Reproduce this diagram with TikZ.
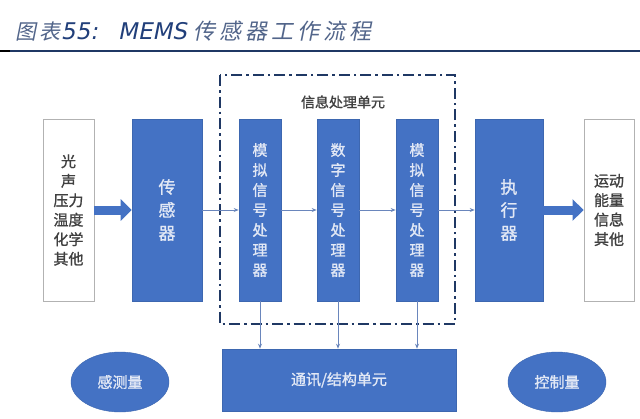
\documentclass[tikz,border=0pt]{standalone}
\usepackage{fontspec}
\setmainfont{Liberation Sans}
\newfontfamily\cjk{Noto Sans CJK SC}[FakeBold=1.2]
\newfontfamily\cjksl{Noto Sans CJK SC}[FakeSlant=0.2,LetterSpace=18]
\newfontfamily\latsl{DejaVu Sans}[FakeSlant=0.2]
\usetikzlibrary{arrows.meta,shapes.geometric}
\definecolor{boxblue}{HTML}{4472C4}
\definecolor{boxtext}{HTML}{E2E8F5}
\definecolor{framec}{HTML}{1F3864}
\definecolor{titlec}{HTML}{213F7A}
\definecolor{titlecjk}{HTML}{52658A}
\definecolor{linec}{HTML}{6A86BC}
\definecolor{graytext}{HTML}{404040}
\tikzset{
  bluebox/.style={draw=boxblue!90!black, line width=0.6pt, fill=boxblue, text=boxtext, inner sep=0pt, align=center, font=\cjk\fontsize{15}{20}\selectfont},
  whitebox/.style={draw=gray!60, line width=0.8pt, fill=white, text=graytext, inner sep=0pt, align=center, font=\cjk\fontsize{15}{19.5}\selectfont},
  fatarrow/.style={draw=boxblue, line width=9pt, -{Triangle[length=11pt,width=21pt]}},
  thinarrow/.style={draw=linec, line width=0.8pt, -{Stealth[length=5pt,width=4pt]}},
  blueell/.style={ellipse, fill=boxblue, draw=boxblue!90!black, text=boxtext, inner sep=0pt, font=\cjk\fontsize{15}{18}\selectfont},
  frame/.style={draw=framec, line width=2.5pt, dash pattern=on 11pt off 4pt on 2.5pt off 4pt}
}
\begin{document}
\begin{tikzpicture}[x=1pt,y=-1pt]
\useasboundingbox (0,0) rectangle (640,418);
\fill[white] (0,0) rectangle (640,418);
% title
\node[anchor=base west, inner sep=0pt] (title) at (15,39)
  {{\color{titlecjk}\cjksl\fontsize{21}{21}\selectfont 图表}{\color{titlec}\latsl\fontsize{23}{23}\selectfont 55:\hspace{20pt}MEMS}\hspace{7pt}{\color{titlecjk}\cjksl\fontsize{22}{22}\selectfont 传感器工作流程}};
\draw[line width=2.5pt, draw=framec] (10,51) -- (640,51);
\draw[line width=2.5pt, draw=black] (0,51) -- (10,51);
% frame
\draw[frame] (220,75) rectangle (455,324);
\node[text=graytext, font=\cjk\fontsize{14}{14}\selectfont] (info) at (343,102) {信息处理单元};
% boxes
\node[whitebox, minimum width=51pt, minimum height=182pt] (in) at (68.5,210) {光\\声\\压力\\温度\\化学\\其他};
\node[bluebox, minimum width=70pt, minimum height=182pt, font=\cjk\fontsize{17}{23}\selectfont] (sens) at (167,210) {传\\感\\器};
\node[bluebox, minimum width=42pt, minimum height=182pt] (p1) at (260,210) {模\\拟\\信\\号\\处\\理\\器};
\node[bluebox, minimum width=42pt, minimum height=182pt] (p2) at (338,210) {数\\字\\信\\号\\处\\理\\器};
\node[bluebox, minimum width=42pt, minimum height=182pt] (p3) at (417,210) {模\\拟\\信\\号\\处\\理\\器};
\node[bluebox, minimum width=68pt, minimum height=182pt, font=\cjk\fontsize{17}{23}\selectfont] (act) at (509,210) {执\\行\\器};
\node[whitebox, minimum width=50pt, minimum height=182pt] (out) at (609,210) {\raisebox{-5pt}{\parbox{40pt}{\centering 运动\\能量\\信息\\其他}}};
\node[bluebox, minimum width=234pt, minimum height=62pt] (comm) at (339,380) {通讯/结构单元};
\node[blueell, minimum width=98pt, minimum height=60pt] (e1) at (120,382) {感测量};
\node[blueell, minimum width=98pt, minimum height=60pt] (e2) at (557,382) {控制量};
% connectors
\draw[fatarrow] (in.east) -- (sens.west);
\draw[fatarrow] (act.east) -- (out.west);
\draw[thinarrow] (sens.east) -- (p1.west);
\draw[thinarrow] (p1.east) -- (p2.west);
\draw[thinarrow] (p2.east) -- (p3.west);
\draw[thinarrow] (p3.east) -- (act.west);
\draw[thinarrow] (p1.south) -- (p1.south |- comm.north);
\draw[thinarrow] (p2.south) -- (p2.south |- comm.north);
\draw[thinarrow] (p3.south) -- (p3.south |- comm.north);
\end{tikzpicture}
\end{document}
